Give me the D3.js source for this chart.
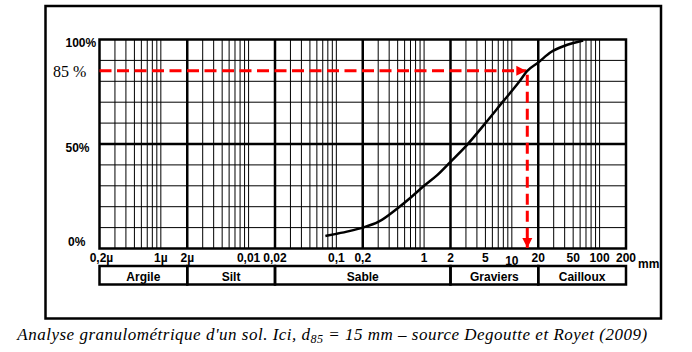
<!DOCTYPE html>
<html>
<head>
<meta charset="utf-8">
<script src="https://cdn.jsdelivr.net/npm/d3@7"></script>
<style>
  body { margin: 0; background: #fff; }
  svg { display: block; }
</style>
</head>
<body>
<div id="container"></div>
<script>
let w = 692;
let h = 352;

// grain size (mm) and % passing
let sizes   = [0.075, 0.1, 0.14, 0.2, 0.3, 0.5, 0.7, 1, 1.4, 2, 3, 5, 8, 12, 15, 20, 28, 40, 65];
let passing = [6, 7, 8.3, 10, 12.7, 19.3, 24.3, 30, 35, 41.5, 49, 60, 70.5, 79.5, 85, 89, 94, 97, 99.5];

// x axis labels (mm)
let tickValues = [0.0002, 0.001, 0.002, 0.01, 0.02, 0.1, 0.2, 1, 2, 5, 10, 20, 50, 100, 200];
let tickLabels = ["0,2\u00b5", "1\u00b5", "2\u00b5", "0,01", "0,02", "0,1", "0,2", "1", "2", "5", "10", "20", "50", "100", "200"];

// y axis
let percentTicks = [0, 10, 20, 30, 40, 50, 60, 70, 80, 90, 100];
let percentLabels = [100, 50, 0];

// soil classes
let classNames  = ["Argile", "Silt", "Sable", "Graviers", "Cailloux"];
let classBounds = [0.0002, 0.002, 0.02, 2, 20, 200];

let d85 = 15;
let p85 = 85;

let pLeft = 99.5, pRight = 626, pTop = 39.5, pBottom = 248.5;

let viz = d3.select("#container").append("svg")
    .attr("width", w)
    .attr("height", h)
;

let x = d3.scaleLog().domain([0.0002, 200]).range([pLeft, pRight]);
let y = d3.scaleLinear().domain([0, 100]).range([pBottom, pTop]);

let isMajor = function(v){
  let l = Math.log10(v / 2);
  return Math.abs(l - Math.round(l)) < 1e-6;
};

// outer frame
viz.append("rect")
    .attr("x", 45.5)
    .attr("y", 6)
    .attr("width", 615.5)
    .attr("height", 312.5)
    .attr("fill", "none")
    .attr("stroke", "black")
    .attr("stroke-width", 2.5)
;

let grid = viz.append("g");

// vertical grid lines, 3..10 in each decade, thick at 2x10^k
let vticks = x.ticks().filter(v => v > 0.00021 && v < 190);
grid.selectAll(".vline").data(vticks).enter()
    .append("line")
    .attr("class", "vline")
    .attr("x1", d => x(d))
    .attr("x2", d => x(d))
    .attr("y1", pTop)
    .attr("y2", pBottom)
    .attr("stroke", "black")
    .attr("stroke-width", d => isMajor(d) ? 2.5 : 1)
;

// horizontal grid lines every 10%
grid.selectAll(".hline").data(percentTicks.filter(d => d > 0 && d < 100)).enter()
    .append("line")
    .attr("class", "hline")
    .attr("x1", pLeft)
    .attr("x2", pRight)
    .attr("y1", d => y(d))
    .attr("y2", d => y(d))
    .attr("stroke", "black")
    .attr("stroke-width", d => d == 50 ? 2.5 : 1)
;

grid.append("rect")
    .attr("x", pLeft)
    .attr("y", pTop)
    .attr("width", pRight - pLeft)
    .attr("height", pBottom - pTop)
    .attr("fill", "none")
    .attr("stroke", "black")
    .attr("stroke-width", 2.5)
;

// y labels
viz.selectAll(".ylab").data(percentLabels).enter()
    .append("text")
    .attr("class", "ylab")
    .attr("x", d => d == 0 ? 68 : 65.5)
    .attr("y", d => y(d) + (d == 0 ? -2.5 : 7.5))
    .attr("font-family", "'Liberation Sans', Arial, sans-serif")
    .attr("font-weight", "bold")
    .attr("font-size", 12)
    .text(d => d + "%")
;

viz.append("text")
    .attr("x", 53)
    .attr("y", y(p85) + 6)
    .attr("font-family", "'Liberation Serif', 'Times New Roman', serif")
    .attr("font-size", 16)
    .text("85 %")
;

// x labels
viz.selectAll(".xlab").data(tickValues).enter()
    .append("text")
    .attr("class", "xlab")
    .attr("x", (d, i) => x(d) + (i == 0 ? 2 : 0))
    .attr("y", d => d == 10 ? 264.5 : 262)
    .attr("text-anchor", "middle")
    .attr("font-family", "'Liberation Sans', Arial, sans-serif")
    .attr("font-weight", "bold")
    .attr("font-size", 12)
    .text((d, i) => tickLabels[i])
;
viz.append("text")
    .attr("x", pRight + 12)
    .attr("y", 268)
    .attr("font-family", "'Liberation Sans', Arial, sans-serif")
    .attr("font-weight", "bold")
    .attr("font-size", 12)
    .text("mm")
;

// class row
let rowTop = 266, rowBottom = 284.5;
let classes = viz.append("g");
classes.selectAll("rect").data(classNames).enter()
    .append("rect")
    .attr("x", (d, i) => x(classBounds[i]))
    .attr("y", rowTop)
    .attr("width", (d, i) => x(classBounds[i + 1]) - x(classBounds[i]))
    .attr("height", rowBottom - rowTop)
    .attr("fill", "none")
    .attr("stroke", "black")
    .attr("stroke-width", 2.5)
;
classes.selectAll("text").data(classNames).enter()
    .append("text")
    .attr("x", (d, i) => (x(classBounds[i]) + x(classBounds[i + 1])) / 2)
    .attr("y", 281)
    .attr("text-anchor", "middle")
    .attr("font-family", "'Liberation Sans', Arial, sans-serif")
    .attr("font-weight", "bold")
    .attr("font-size", 12)
    .text(d => d)
;

// d85 arrows
let defs = viz.append("defs");
defs.append("marker")
    .attr("id", "arrow")
    .attr("viewBox", "0 0 10 10")
    .attr("refX", 10)
    .attr("refY", 5)
    .attr("markerWidth", 10)
    .attr("markerHeight", 11)
    .attr("markerUnits", "userSpaceOnUse")
    .attr("orient", "auto")
  .append("path")
    .attr("d", "M0,0 L10,5 L0,10 Z")
    .attr("fill", "#ff0000")
;

viz.append("line")
    .attr("x1", pLeft)
    .attr("x2", x(d85) - 1)
    .attr("y1", y(p85))
    .attr("y2", y(p85))
    .attr("stroke", "#ff0000")
    .attr("stroke-width", 3)
    .attr("stroke-dasharray", "12,5.5")
    .attr("marker-end", "url(#arrow)")
;
viz.append("line")
    .attr("x1", x(d85))
    .attr("x2", x(d85))
    .attr("y1", y(p85) + 4)
    .attr("y2", y(0) - 0.5)
    .attr("stroke", "#ff0000")
    .attr("stroke-width", 3)
    .attr("stroke-dasharray", "11,6")
    .attr("marker-end", "url(#arrow)")
;

// grading curve
let line = d3.line()
    .x((d, i) => x(sizes[i]))
    .y((d, i) => y(passing[i]))
    .curve(d3.curveMonotoneX);

viz.append("path")
    .datum(passing)
    .attr("d", line)
    .attr("fill", "none")
    .attr("stroke", "black")
    .attr("stroke-width", 2.5)
;

// caption
let cap = viz.append("text")
    .attr("x", 332.5)
    .attr("y", 340)
    .attr("text-anchor", "middle")
    .attr("font-family", "'Liberation Serif', 'Times New Roman', serif")
    .attr("font-style", "italic")
    .attr("font-size", 17)
    .attr("letter-spacing", 0.5)
;
cap.append("tspan").text("Analyse granulom\u00e9trique d'un sol. Ici, d");
cap.append("tspan").attr("dy", 3).attr("font-size", 12).text("85");
cap.append("tspan").attr("dy", -3).text(" = 15 mm \u2013 source Degoutte et Royet (2009)");
</script>
</body>
</html>
